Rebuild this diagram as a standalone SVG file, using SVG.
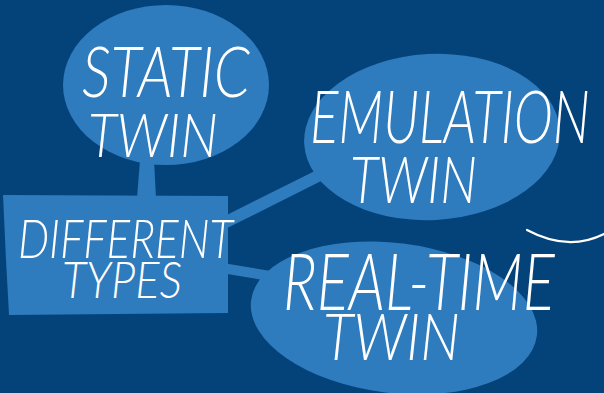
<svg xmlns="http://www.w3.org/2000/svg" width="604" height="393" viewBox="0 0 604 393">
<style>
.shape{fill:#2e7bbd}
.conn{stroke:#2e7bbd;fill:#2e7bbd;stroke-linecap:butt}
.lbl{fill:#ffffff;font-family:Lato,"Open Sans",sans-serif;font-weight:300;font-style:italic}
</style>
<rect width="604" height="393" fill="#044379"/>
<g id="connectors">
<path class="conn" d="M140,160 L154,160 L156,198 L137,198 Z" stroke-width="0"/>
<line class="conn" x1="222" y1="224" x2="322" y2="174" stroke-width="12"/>
<line class="conn" x1="222" y1="268" x2="270" y2="276" stroke-width="10"/>
</g>
<g id="node-static">
<ellipse class="shape" cx="166" cy="85" rx="103" ry="80"/>
<text class="lbl" x="82" y="97" font-size="71" textLength="168" lengthAdjust="spacingAndGlyphs">STATIC</text>
<text class="lbl" x="88" y="157" font-size="61" textLength="130" lengthAdjust="spacingAndGlyphs">TWIN</text>
</g>
<g id="node-different">
<path class="shape" d="M3,195 L228,196 L228,313 L9,315 L6,260 Z"/>
<text class="lbl" x="18" y="258" font-size="53" textLength="215" lengthAdjust="spacingAndGlyphs">DIFFERENT</text>
<text class="lbl" x="62" y="298" font-size="51" textLength="120" lengthAdjust="spacingAndGlyphs">TYPES</text>
</g>
<g id="node-emulation">
<ellipse class="shape" cx="432" cy="137" rx="128" ry="83" transform="rotate(-3 432 137)"/>
<text class="lbl" x="310" y="143" font-size="73" textLength="280" lengthAdjust="spacingAndGlyphs">EMULATION</text>
<text class="lbl" x="350" y="203" font-size="66" textLength="127" lengthAdjust="spacingAndGlyphs">TWIN</text>
</g>
<g id="node-realtime">
<ellipse class="shape" cx="394" cy="318" rx="144" ry="75" transform="rotate(7 394 318)"/>
<text class="lbl" x="283" y="310" font-size="79" textLength="272" lengthAdjust="spacingAndGlyphs">REAL-TIME</text>
<text class="lbl" x="323" y="360" font-size="65" textLength="137" lengthAdjust="spacingAndGlyphs">TWIN</text>
</g>
<path d="M527,230 Q568,252 604,234" fill="none" stroke="#ffffff" stroke-width="2.2" stroke-linecap="round"/>
</svg>
